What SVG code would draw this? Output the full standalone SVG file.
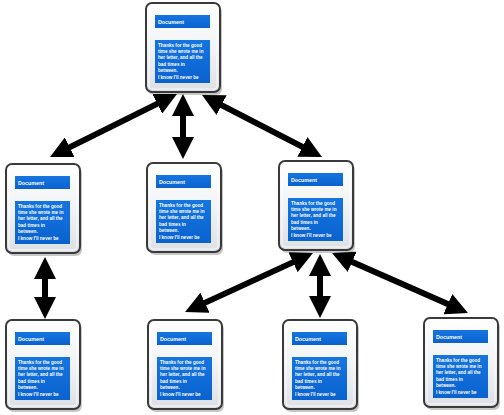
<svg xmlns="http://www.w3.org/2000/svg" width="504" height="415" viewBox="0 0 504 415">
<defs>
<linearGradient id="frameFill" x1="0" y1="0" x2="0" y2="1">
<stop offset="0" stop-color="#ffffff"/>
<stop offset="0.5" stop-color="#f1f3f6"/>
<stop offset="1" stop-color="#dcdfe4"/>
</linearGradient>
<linearGradient id="blueFill" x1="0" y1="0" x2="0" y2="1">
<stop offset="0" stop-color="#1575e0"/>
<stop offset="1" stop-color="#0a62cf"/>
</linearGradient>
<marker id="head" viewBox="0 0 22 22" refX="11" refY="11" markerWidth="22" markerHeight="22" markerUnits="userSpaceOnUse" orient="auto-start-reverse">
<path d="M0,0 L22,11 L0,22 z" fill="#000"/>
</marker>
<g id="doc">
<rect x="2" y="3" width="74" height="89" rx="6" fill="#000" opacity="0.22"/>
<rect x="0" y="0" width="74" height="89" rx="6" class="frame"/>
<rect x="3" y="3" width="68" height="83" rx="3" fill="none" stroke="#ffffff" stroke-width="1" opacity="0.8"/>
<rect x="9" y="12" width="55" height="13" class="blue"/>
<rect x="9" y="37" width="55" height="43" class="blue"/>
</g>
</defs>
<style>
.frame{fill:url(#frameFill);stroke:#3a3a3a;stroke-width:2}
.blue{fill:url(#blueFill)}
.hd{font-family:"Liberation Sans",Arial,sans-serif;font-size:5.3px;font-weight:bold;fill:#ffffff}
.bd{font-family:"Liberation Sans",Arial,sans-serif;font-size:4.6px;font-weight:bold;fill:#ffffff}
.conn line{stroke:#000;stroke-width:6;marker-start:url(#head);marker-end:url(#head)}
</style>

<g id="connectors" class="conn">
<line x1="167.1" y1="98.9" x2="59.9" y2="152.1"/>
<line x1="183" y1="105" x2="183" y2="148"/>
<line x1="211.8" y1="100.1" x2="312.2" y2="151.9"/>
<line x1="45" y1="268" x2="45" y2="308"/>
<line x1="303" y1="257.6" x2="195" y2="307.4"/>
<line x1="320" y1="265" x2="320" y2="307"/>
<line x1="342.1" y1="257.4" x2="457.9" y2="308.6"/>
</g>

<g id="nodeA" transform="translate(146,3)">
<use href="#doc"/>
<text class="hd" x="12" y="20.6">Document</text>
<text class="bd"><tspan x="12" y="43.6">Thanks for the good</tspan><tspan x="12" y="50">time she wrote me in</tspan><tspan x="12" y="56.4">her letter, and all the</tspan><tspan x="12" y="62.8">bad times in</tspan><tspan x="12" y="69.2">between.</tspan><tspan x="12" y="75.6">I know I'll never be</tspan></text>
</g>

<g id="nodeB" transform="translate(6,164)">
<use href="#doc"/>
<text class="hd" x="12" y="20.6">Document</text>
<text class="bd"><tspan x="12" y="43.6">Thanks for the good</tspan><tspan x="12" y="50">time she wrote me in</tspan><tspan x="12" y="56.4">her letter, and all the</tspan><tspan x="12" y="62.8">bad times in</tspan><tspan x="12" y="69.2">between.</tspan><tspan x="12" y="75.6">I know I'll never be</tspan></text>
</g>

<g id="nodeC" transform="translate(147,163)">
<use href="#doc"/>
<text class="hd" x="12" y="20.6">Document</text>
<text class="bd"><tspan x="12" y="43.6">Thanks for the good</tspan><tspan x="12" y="50">time she wrote me in</tspan><tspan x="12" y="56.4">her letter, and all the</tspan><tspan x="12" y="62.8">bad times in</tspan><tspan x="12" y="69.2">between.</tspan><tspan x="12" y="75.6">I know I'll never be</tspan></text>
</g>

<g id="nodeD" transform="translate(279,161)">
<use href="#doc"/>
<text class="hd" x="12" y="20.6">Document</text>
<text class="bd"><tspan x="12" y="43.6">Thanks for the good</tspan><tspan x="12" y="50">time she wrote me in</tspan><tspan x="12" y="56.4">her letter, and all the</tspan><tspan x="12" y="62.8">bad times in</tspan><tspan x="12" y="69.2">between.</tspan><tspan x="12" y="75.6">I know I'll never be</tspan></text>
</g>

<g id="nodeE" transform="translate(6,320)">
<use href="#doc"/>
<text class="hd" x="12" y="20.6">Document</text>
<text class="bd"><tspan x="12" y="43.6">Thanks for the good</tspan><tspan x="12" y="50">time she wrote me in</tspan><tspan x="12" y="56.4">her letter, and all the</tspan><tspan x="12" y="62.8">bad times in</tspan><tspan x="12" y="69.2">between.</tspan><tspan x="12" y="75.6">I know I'll never be</tspan></text>
</g>

<g id="nodeF" transform="translate(148,320)">
<use href="#doc"/>
<text class="hd" x="12" y="20.6">Document</text>
<text class="bd"><tspan x="12" y="43.6">Thanks for the good</tspan><tspan x="12" y="50">time she wrote me in</tspan><tspan x="12" y="56.4">her letter, and all the</tspan><tspan x="12" y="62.8">bad times in</tspan><tspan x="12" y="69.2">between.</tspan><tspan x="12" y="75.6">I know I'll never be</tspan></text>
</g>

<g id="nodeG" transform="translate(283,320)">
<use href="#doc"/>
<text class="hd" x="12" y="20.6">Document</text>
<text class="bd"><tspan x="12" y="43.6">Thanks for the good</tspan><tspan x="12" y="50">time she wrote me in</tspan><tspan x="12" y="56.4">her letter, and all the</tspan><tspan x="12" y="62.8">bad times in</tspan><tspan x="12" y="69.2">between.</tspan><tspan x="12" y="75.6">I know I'll never be</tspan></text>
</g>

<g id="nodeH" transform="translate(424,318)">
<use href="#doc"/>
<text class="hd" x="12" y="20.6">Document</text>
<text class="bd"><tspan x="12" y="43.6">Thanks for the good</tspan><tspan x="12" y="50">time she wrote me in</tspan><tspan x="12" y="56.4">her letter, and all the</tspan><tspan x="12" y="62.8">bad times in</tspan><tspan x="12" y="69.2">between.</tspan><tspan x="12" y="75.6">I know I'll never be</tspan></text>
</g>
</svg>
